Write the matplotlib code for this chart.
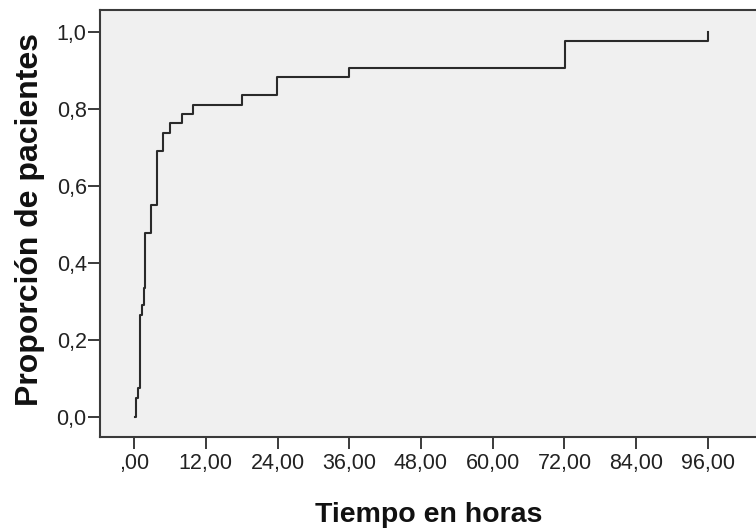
import numpy as np
import matplotlib
matplotlib.use("Agg")
import matplotlib.pyplot as plt

# Cumulative proportion of patients vs. time (hours)
tiempo = [0.2, 0.4, 0.7, 1.0, 1.3, 1.6, 1.8, 2.85, 3.85, 4.9, 6.0, 8.0,
          9.9, 18.0, 23.9, 36.0, 72.1, 96.0]
proporcion = [0.0, 0.049, 0.075, 0.265, 0.29, 0.335, 0.478, 0.55, 0.691,
              0.738, 0.763, 0.787, 0.81, 0.836, 0.883, 0.906, 0.977, 1.0]

xticks = [0, 12, 24, 36, 48, 60, 72, 84, 96]
xtick_labels = [",00", "12,00", "24,00", "36,00", "48,00", "60,00",
                "72,00", "84,00", "96,00"]
yticks = [0.0, 0.2, 0.4, 0.6, 0.8, 1.0]
ytick_labels = ["0,0", "0,2", "0,4", "0,6", "0,8", "1,0"]

plt.rcParams['font.family'] = ['Liberation Sans', 'DejaVu Sans']

fig = plt.figure(figsize=(7.56, 5.31), dpi=100)
ax = fig.add_axes([100 / 756, 94 / 531, 657 / 756, 427 / 531])
ax.set_facecolor("#f0f0f0")

ax.plot(tiempo, proporcion, drawstyle="steps-post", color="#2a2a2a", lw=1.5)

ax.set_xlim(-5.69, 104.2)
ax.set_ylim(-0.052, 1.057)

ax.set_xticks(xticks)
ax.set_xticklabels(xtick_labels)
ax.set_yticks(yticks)
ax.set_yticklabels(ytick_labels)
ax.tick_params(axis="both", direction="out", length=8.6, width=1.4,
               color="#3a3a3a", labelsize=15.5, labelcolor="#222222")
ax.tick_params(axis="x", pad=3)
ax.tick_params(axis="y", pad=1)

for side in ["left", "bottom", "top"]:
    ax.spines[side].set_color("#3a3a3a")
    ax.spines[side].set_linewidth(1.5)
ax.spines["right"].set_visible(False)

ax.set_xlabel("Tiempo en horas", fontsize=20.5, fontweight="bold", color="#111111")
ax.set_ylabel("Proporción de pacientes", fontsize=23, fontweight="bold",
              color="#111111")
ax.xaxis.set_label_coords(0.5, -0.153)
ax.yaxis.set_label_coords(-0.084, 0.51)

fig.savefig("out.png", dpi=100, facecolor="white")
